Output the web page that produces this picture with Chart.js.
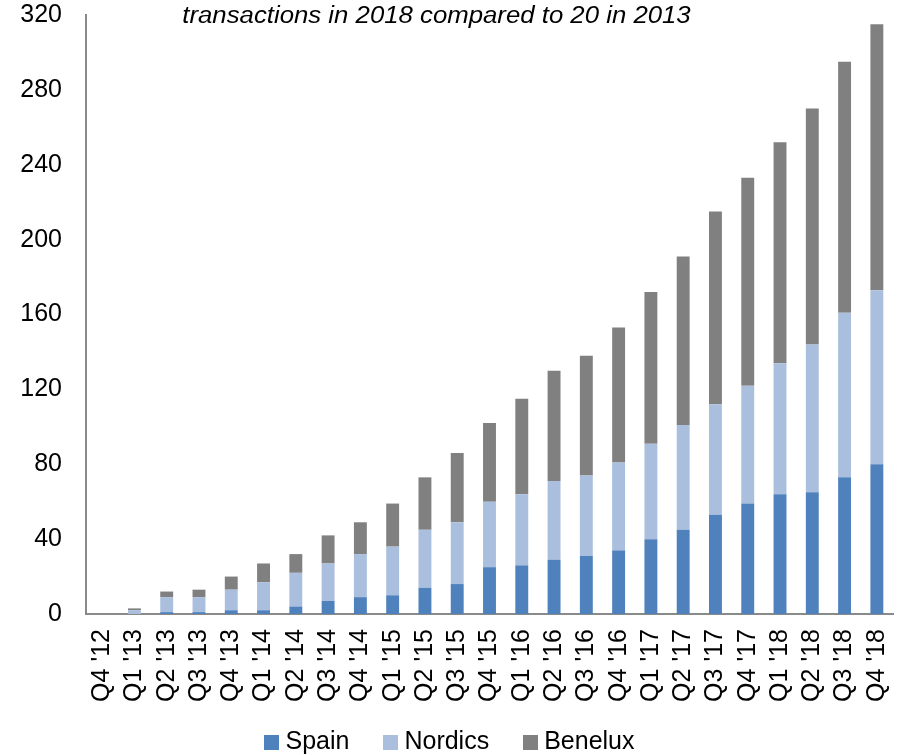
<!DOCTYPE html>
<html>
<head>
<meta charset="utf-8">
<script src="https://cdn.jsdelivr.net/npm/chart.js@4/dist/chart.umd.min.js"></script>
<style>
  html, body { margin: 0; padding: 0; background: #fff; overflow: hidden; }
  #wrap { position: relative; width: 899px; height: 755px; }
  #legend {
    position: absolute; left: 0; top: 726px; width: 899px;
    display: flex; justify-content: center;
    font-family: "Liberation Sans", Arial, sans-serif; font-size: 25px; color: #000;
  }
  #legend .item { display: flex; align-items: center; margin: 0 17px; }
  #legend .box { width: 15px; height: 15px; margin-right: 6px; margin-top: 3px; }
</style>
</head>
<body>
<div id="wrap">
  <canvas id="dealsChart" width="899" height="755"></canvas>
  <div id="legend"></div>
</div>
<script>
const quarters = ["Q4 '12", "Q1 '13", "Q2 '13", "Q3 '13", "Q4 '13", "Q1 '14", "Q2 '14", "Q3 '14", "Q4 '14",
  "Q1 '15", "Q2 '15", "Q3 '15", "Q4 '15", "Q1 '16", "Q2 '16", "Q3 '16", "Q4 '16",
  "Q1 '17", "Q2 '17", "Q3 '17", "Q4 '17", "Q1 '18", "Q2 '18", "Q3 '18", "Q4 '18"];

const spain   = [0, 0, 1, 1, 2, 2, 4, 7, 9, 10, 14, 16, 25, 26, 29, 31, 34, 40, 45, 53, 59, 64, 65, 73, 80];
const nordics = [0, 2, 8, 8, 11, 15, 18, 20, 23, 26, 31, 33, 35, 38, 42, 43, 47, 51, 56, 59, 63, 70, 79, 88, 93];
const benelux = [0, 1, 3, 4, 7, 10, 10, 15, 17, 23, 28, 37, 42, 51, 59, 64, 72, 81, 90, 103, 111, 118, 126, 134, 142];

const yTicks = [0, 40, 80, 120, 160, 200, 240, 280, 320];
const headline = 'transactions in 2018 compared to 20 in 2013';

const FONT = '"Liberation Sans", Arial, sans-serif';
const AXIS_GREY = '#8a8a8a';

// italic line of text across the top of the plot
const headlinePlugin = {
  id: 'headline',
  afterDraw(chart) {
    const ctx = chart.ctx;
    ctx.save();
    ctx.font = 'italic 23px ' + FONT;
    ctx.fillStyle = '#000';
    ctx.textAlign = 'center';
    ctx.textBaseline = 'alphabetic';
    ctx.translate(436.5, 23);
    ctx.scale(1.12, 1);
    ctx.fillText(headline, 0, 0);
    ctx.restore();
  }
};

const ctx = document.getElementById('dealsChart').getContext('2d');
const chart = new Chart(ctx, {
  type: 'bar',
  data: {
    labels: quarters,
    datasets: [
      { label: 'Spain', data: spain, backgroundColor: '#4f81bd' },
      { label: 'Nordics', data: nordics, backgroundColor: '#aabfdd' },
      { label: 'Benelux', data: benelux, backgroundColor: '#808080' }
    ]
  },
  options: {
    responsive: false,
    animation: false,
    layout: { padding: { top: 15, right: 6, left: 0, bottom: 0 } },
    datasets: {
      bar: { barPercentage: 0.4, categoryPercentage: 1, borderWidth: 0 }
    },
    plugins: {
      legend: { display: false },
      tooltip: { enabled: false }
    },
    scales: {
      x: {
        stacked: true,
        grid: { display: false, drawTicks: false },
        border: { display: true, color: AXIS_GREY, width: 2 },
        ticks: {
          color: '#000',
          font: { family: FONT, size: 25 },
          minRotation: 90,
          maxRotation: 90,
          autoSkip: false,
          padding: 15
        },
        afterFit(scale) {
          // fixed axis band; let layout padding decide the plot edges
          scale.height = 755 - 614;
          scale.paddingLeft = 0;
          scale.paddingRight = 0;
        }
      },
      y: {
        stacked: true,
        min: 0,
        max: 320,
        grid: { display: false, drawTicks: false },
        border: { display: true, color: AXIS_GREY, width: 2 },
        afterBuildTicks(scale) { scale.ticks = yTicks.map(v => ({ value: v })); },
        ticks: {
          color: '#000',
          font: { family: FONT, size: 25 },
          padding: 24
        },
        afterFit(scale) {
          scale.width = 86;
          scale.paddingTop = 0;
          scale.paddingBottom = 0;
        }
      }
    }
  },
  plugins: [headlinePlugin]
});

// legend built from the datasets
const legendEl = document.getElementById('legend');
chart.data.datasets.forEach(ds => {
  const item = document.createElement('div');
  item.className = 'item';
  const box = document.createElement('span');
  box.className = 'box';
  box.style.background = ds.backgroundColor;
  const txt = document.createElement('span');
  txt.textContent = ds.label;
  item.appendChild(box);
  item.appendChild(txt);
  legendEl.appendChild(item);
});
</script>
</body>
</html>
